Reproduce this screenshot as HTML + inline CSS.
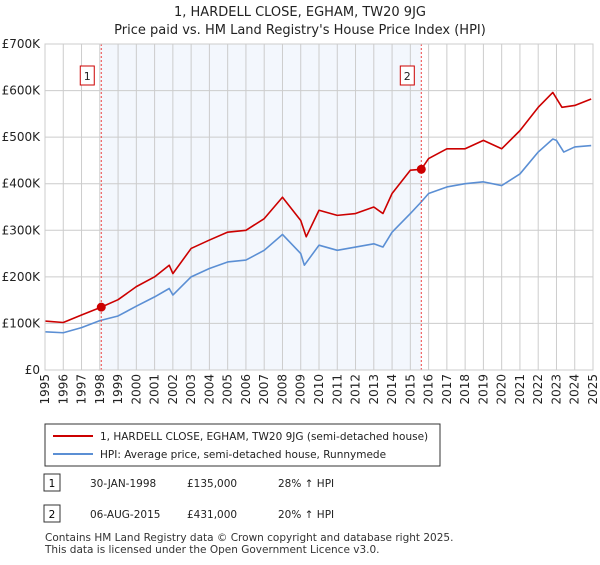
<!DOCTYPE html>
<html><head><meta charset="utf-8"><style>
body{margin:0;background:#fff;font-family:"Liberation Sans","DejaVu Sans",sans-serif;}
svg text{font-family:"DejaVu Sans","Liberation Sans",sans-serif;}
</style></head><body>
<svg width="600" height="560" viewBox="0 0 600 560">
<text x="300" y="16" text-anchor="middle" font-size="13" fill="#222">1, HARDELL CLOSE, EGHAM, TW20 9JG</text>
<text x="300" y="34" text-anchor="middle" font-size="13" fill="#222">Price paid vs. HM Land Registry's House Price Index (HPI)</text>
<g id="plot"></g>
<rect x="45" y="424" width="395" height="42" fill="#fff" stroke="#333"/>
<line x1="53" y1="436" x2="93" y2="436" stroke="#cc0000" stroke-width="2"/>
<text x="100" y="440" font-size="10.5" fill="#222">1, HARDELL CLOSE, EGHAM, TW20 9JG (semi-detached house)</text>
<line x1="53" y1="454" x2="93" y2="454" stroke="#5b8fd4" stroke-width="2"/>
<text x="100" y="458" font-size="10.5" fill="#222">HPI: Average price, semi-detached house, Runnymede</text>
<rect x="44" y="474" width="16" height="17" fill="#fff" stroke="#333"/>
<text x="52" y="487" text-anchor="middle" font-size="10.5">1</text>
<text x="90" y="487" font-size="10.5" fill="#222">30-JAN-1998</text>
<text x="187" y="487" font-size="10.5" fill="#222">£135,000</text>
<text x="278" y="487" font-size="10.5" fill="#222">28% ↑ HPI</text>
<rect x="44" y="505" width="16" height="17" fill="#fff" stroke="#333"/>
<text x="52" y="518" text-anchor="middle" font-size="10.5">2</text>
<text x="90" y="518" font-size="10.5" fill="#222">06-AUG-2015</text>
<text x="187" y="518" font-size="10.5" fill="#222">£431,000</text>
<text x="278" y="518" font-size="10.5" fill="#222">20% ↑ HPI</text>
<text x="45" y="541" font-size="10.5" fill="#333">Contains HM Land Registry data © Crown copyright and database right 2025.</text>
<text x="45" y="553" font-size="10.5" fill="#333">This data is licensed under the Open Government Licence v3.0.</text>
</svg>
<script>
const yTicks=[0,100,200,300,400,500,600,700];
const yTickLabels=["£0","£100K","£200K","£300K","£400K","£500K","£600K","£700K"];
const xYears=[1995,1996,1997,1998,1999,2000,2001,2002,2003,2004,2005,2006,2007,2008,2009,2010,2011,2012,2013,2014,2015,2016,2017,2018,2019,2020,2021,2022,2023,2024,2025];
const hpiT=[1995,1996,1997,1998,1999,2000,2001,2001.8,2002,2003,2004,2005,2006,2007,2008,2009,2009.2,2010,2011,2012,2013,2013.5,2014,2015,2015.6,2016,2017,2018,2019,2020,2021,2022,2022.8,2023,2023.4,2024,2024.9];
const hpiV=[82,80,91,106,116,137,157,175,161,200,218,232,236,257,291,250,225,268,257,264,271,264,296,336,361,379,393,400,404,396,421,468,496,493,468,479,482];
const paidT=[1995,1996,1997,1998.08,1999,2000,2001,2001.8,2002,2003,2004,2005,2006,2007,2008,2009,2009.3,2010,2011,2012,2013,2013.5,2014,2015,2015.6,2016,2017,2018,2019,2020,2021,2022,2022.8,2023.3,2024,2024.9];
const paidV=[105,102,118,135,151,179,200,225,207,261,279,296,300,325,371,321,286,343,332,336,350,336,379,429,431,454,475,475,493,475,514,564,596,564,568,582];
const saleT=[1998.08,2015.6];
const saleV=[135,431];
const X=t=>45+(t-1995)*(548/30);
const Y=v=>370-v*(326/700);
const NS="http://www.w3.org/2000/svg";
const g=document.getElementById('plot');
function mk(tag,a){const e=document.createElementNS(NS,tag);for(const k in a)e.setAttribute(k,a[k]);g.appendChild(e);return e;}
const shade=mk('rect',{x:X(saleT[0]),y:Y(700),width:X(saleT[1])-X(saleT[0]),height:Y(0)-Y(700),fill:'#eef3fc',opacity:0.7});


yTicks.forEach((v,i)=>{
 const l=mk('line',{x1:45,x2:593,y1:Y(v),y2:Y(v),stroke:'#cccccc'});
 
 
 const t=mk('text',{x:40,y:Y(v)+4,'text-anchor':'end','font-size':12,fill:'#222'});
 t.textContent=yTickLabels[i];
 
 
});
xYears.forEach(yr=>{
 const l=mk('line',{x1:X(yr),x2:X(yr),y1:Y(700),y2:Y(0),stroke:'#cccccc'});
 
 
 const t=mk('text',{x:0,y:0,'text-anchor':'end','font-size':12,fill:'#222',transform:`translate(${X(yr)+4},374) rotate(-90)`});
 t.textContent=yr;
 
 
});
function line(T,V,col,name){
 const p=mk('polyline',{points:T.map((t,i)=>X(t)+','+Y(V[i])).join(' '),fill:'none',stroke:col,'stroke-width':1.6,'stroke-linejoin':'round'});
 
 
}
line(hpiT,hpiV,'#5b8fd4','hpi-line');
line(paidT,paidV,'#cc0000','price-paid-line');
saleT.forEach((t,i)=>{
 const l=mk('line',{x1:X(t),x2:X(t),y1:Y(700),y2:Y(0),stroke:'#ee4444','stroke-dasharray':'2,2'});
 
 
 const c=mk('circle',{cx:X(t),cy:Y(saleV[i]),r:4.5,fill:'#cc0000'});
 
 
 const b=mk('rect',{x:X(t)-21,y:Y(700)+22,width:14,height:19,fill:'#fff',stroke:'#cc0000'});
 
 
 const tx=mk('text',{x:X(t)-14,y:Y(700)+36,'text-anchor':'middle','font-size':11,fill:'#222'});
 tx.textContent=String(i+1);
 
 
});
const r=mk('rect',{x:45,y:Y(700),width:548,height:Y(0)-Y(700),fill:'none',stroke:'#cccccc'});


</script>
</body></html>
